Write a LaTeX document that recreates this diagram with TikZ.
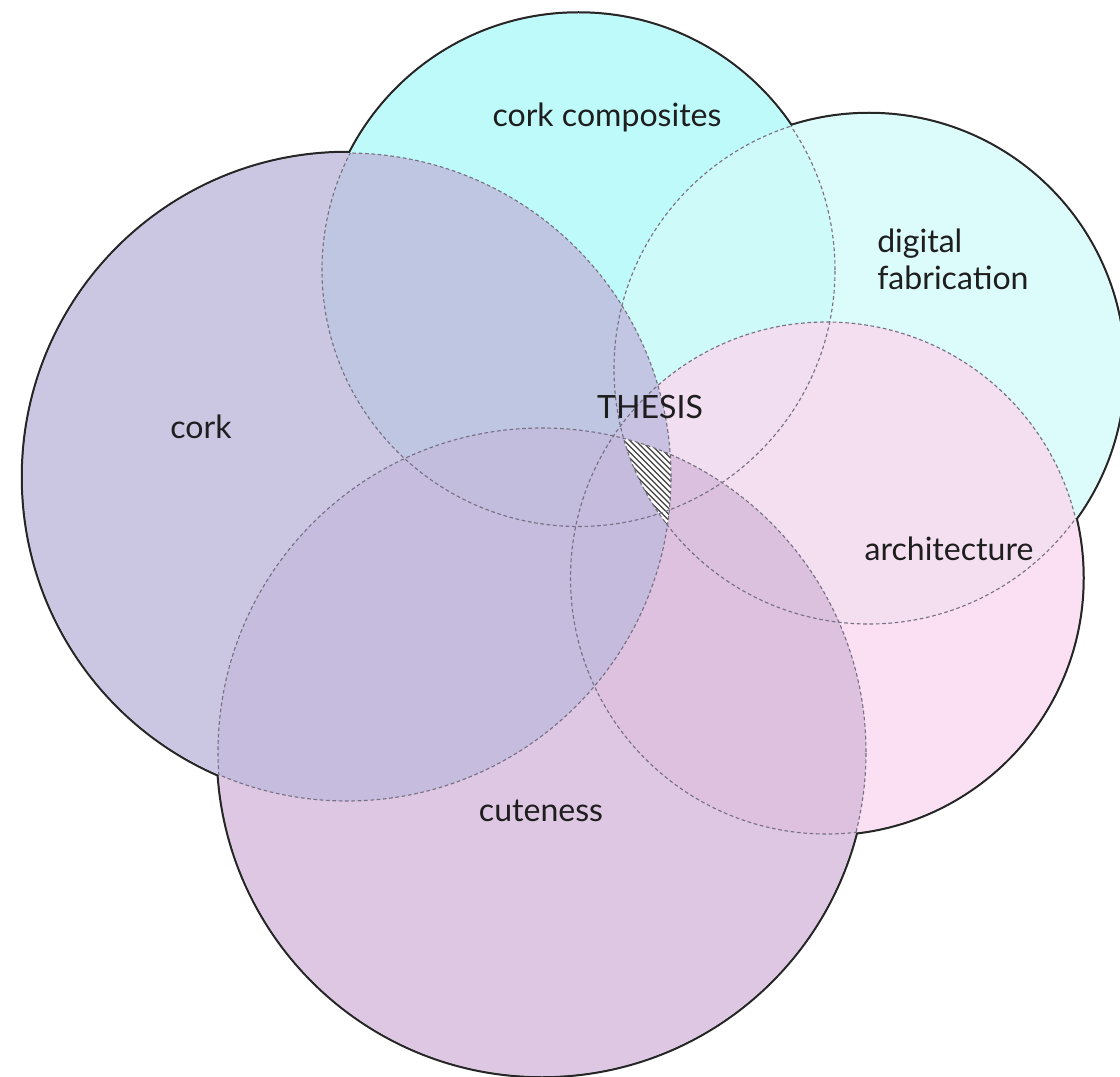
\documentclass[tikz,border=0pt]{standalone}
\usepackage{fontspec}
\setmainfont{Lato}
\definecolor{ccomp}{RGB}{176,249,249}
\definecolor{cdig}{RGB}{212,251,251}
\definecolor{carch}{RGB}{251,216,239}
\definecolor{ccute}{RGB}{214,186,219}
\definecolor{ccork}{RGB}{191,186,221}
\definecolor{cdash}{RGB}{118,112,130}
\definecolor{ctext}{RGB}{30,30,30}
\tikzset{
  outline/.style={draw=black!85, line width=3.2pt},
  dashline/.style={draw=cdash, line width=0.8pt, dash pattern=on 2.6pt off 1.9pt},
  area/.style={fill opacity=0.8},
  label/.style={inner sep=0pt, text=ctext, font=\fontsize{22.8}{26.3}\selectfont},
  hatchline/.style={draw=black!75, line width=0.9pt}
}
\begin{document}
\begin{tikzpicture}[x=0.025cm,y=0.025cm]
\useasboundingbox (0,0) rectangle (1120,-1077);
\clip (0,0) rectangle (1120,-1077);
\coordinate (cc) at (578.5,-270);
\coordinate (df) at (869,-369);
\coordinate (ck) at (347,-477);
\coordinate (ar) at (826.5,-578);
\coordinate (cu) at (542,-752);
\def\Ccc{(cc) circle[radius=256.5]}
\def\Cdf{(df) circle[radius=255]}
\def\Cck{(ck) circle[radius=324]}
\def\Car{(ar) circle[radius=256]}
\def\Ccu{(cu) circle[radius=324]}
% solid outer outline
\path[outline] \Ccc; \path[outline] \Cdf; \path[outline] \Cck; \path[outline] \Car; \path[outline] \Ccu;
\fill[white] \Ccc \Cdf \Cck \Car \Ccu;
% translucent fills
\fill[ccomp,area] \Ccc;
\fill[cdig,area] \Cdf;
\fill[carch,area] \Car;
\fill[ccute,area] \Ccu;
\fill[ccork,area] \Cck;
% hatched thesis region
\begin{scope}
  \clip \Cck; \clip \Ccu; \clip \Cdf;
  \fill[white] (600,-420) rectangle (700,-540);
  \foreach \k in {470,475.8,...,710} { \draw[hatchline] (\k,-420) -- ++(130,-130); }
\end{scope}
% dashed inner arcs
\begin{scope}\clip \Cdf \Cck \Car \Ccu; \path[dashline] \Ccc; \end{scope}
\begin{scope}\clip \Ccc \Cck \Car \Ccu; \path[dashline] \Cdf; \end{scope}
\begin{scope}\clip \Ccc \Cdf \Car \Ccu; \path[dashline] \Cck; \end{scope}
\begin{scope}\clip \Ccc \Cdf \Cck \Ccu; \path[dashline] \Car; \end{scope}
\begin{scope}\clip \Ccc \Cdf \Cck \Car; \path[dashline] \Ccu; \end{scope}
% labels
\node[label] (tcc) at (607,-117) {cork composites};
\node[label, anchor=west, align=left] (tdf) at (877,-259) {digital\\fabrication};
\node[label] (tck) at (201,-427) {cork};
\node[label] (tth) at (650,-407) {THESIS};
\node[label] (tar) at (949,-549) {architecture};
\node[label] (tcu) at (541,-811) {cuteness};
\end{tikzpicture}
\end{document}
